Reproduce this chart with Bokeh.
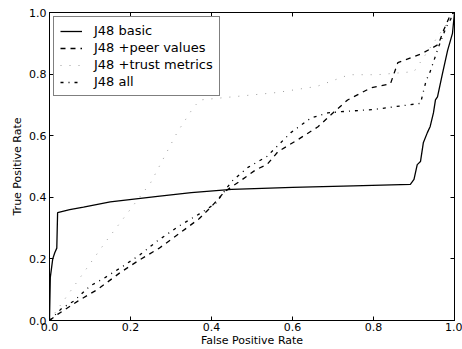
from bokeh.plotting import figure
from bokeh.models import Range1d, FixedTicker, PrintfTickFormatter, LinearAxis, Legend, LegendItem
from bokeh.embed import file_html
from bokeh.resources import INLINE

# ---- data ----
basic_fpr = [0.0, 0.002, 0.008, 0.013, 0.018, 0.02, 0.05, 0.084, 0.15, 0.267, 0.35, 0.45, 0.6, 0.75,
             0.891, 0.9, 0.908, 0.916, 0.923, 0.933, 0.94, 0.948, 0.953, 0.958, 0.97, 0.983, 0.995, 1.0]
basic_tpr = [0.0, 0.14, 0.2, 0.22, 0.235, 0.35, 0.36, 0.368, 0.385, 0.403, 0.415, 0.426, 0.432, 0.437,
             0.442, 0.458, 0.506, 0.516, 0.577, 0.61, 0.63, 0.674, 0.716, 0.726, 0.8, 0.877, 0.932, 1.0]

peer_fpr = [0.0, 0.02, 0.07, 0.12, 0.175, 0.22, 0.27, 0.32, 0.37, 0.40, 0.433, 0.47, 0.51, 0.537, 0.564,
            0.613, 0.663, 0.695, 0.736, 0.793, 0.842, 0.86, 0.89, 0.92, 0.96, 0.973, 0.99, 1.0]
peer_tpr = [0.0, 0.02, 0.063, 0.102, 0.156, 0.195, 0.234, 0.282, 0.331, 0.37, 0.419, 0.452, 0.49, 0.506, 0.548,
            0.587, 0.629, 0.668, 0.716, 0.755, 0.769, 0.837, 0.852, 0.867, 0.896, 0.942, 0.993, 1.0]

trust_fpr = [0.0, 0.14, 0.25, 0.315, 0.355, 0.372, 0.56, 0.66, 0.74, 0.81, 0.90, 0.95, 1.0]
trust_tpr = [0.0, 0.258, 0.448, 0.61, 0.691, 0.716, 0.74, 0.76, 0.798, 0.798, 0.808, 0.905, 1.0]

all_fpr = [0.0, 0.03, 0.06, 0.10, 0.133, 0.18, 0.224, 0.266, 0.32, 0.37, 0.41, 0.45, 0.49, 0.537, 0.596,
           0.645, 0.687, 0.72, 0.80, 0.916, 0.93, 0.94, 0.96, 0.98, 1.0]
all_tpr = [0.0, 0.039, 0.063, 0.112, 0.136, 0.175, 0.214, 0.258, 0.307, 0.346, 0.38, 0.452, 0.497, 0.533, 0.61,
           0.657, 0.674, 0.678, 0.685, 0.705, 0.779, 0.808, 0.886, 0.954, 1.0]

series_labels = ["J48 basic", "J48 +peer values", "J48 +trust metrics", "J48 all"]
ticks = [0.0, 0.2, 0.4, 0.6, 0.8, 1.0]
x_title = "False Positive Rate"
y_title = "True Positive Rate"

FONT = "DejaVu Sans"

p = figure(width=462, height=349, output_backend="svg", toolbar_location=None,
           x_range=Range1d(0, 1), y_range=Range1d(0, 1),
           min_border_left=49, min_border_right=8, min_border_top=12, min_border_bottom=24)
p.xgrid.visible = False
p.ygrid.visible = False
p.outline_line_color = "black"
p.outline_line_width = 1
p.background_fill_color = "white"
p.border_fill_color = "white"

for ax in (p.xaxis[0], p.yaxis[0]):
    ax.ticker = FixedTicker(ticks=ticks)
    ax.formatter = PrintfTickFormatter(format="%.1f")
    ax.major_tick_in = 4
    ax.major_tick_out = 0
    ax.minor_tick_line_color = None
    ax.major_label_text_font = FONT
    ax.major_label_text_font_size = "11px"
    ax.major_label_text_color = "black"
    ax.axis_label_text_font = FONT
    ax.axis_label_text_font_size = "11px"
    ax.axis_label_text_font_style = "normal"
    ax.axis_label_text_color = "black"
    ax.axis_line_color = "black"
    ax.major_tick_line_color = "black"
    ax.major_label_standoff = 2
    ax.axis_label_standoff = 0

p.xaxis.axis_label = x_title
p.yaxis.axis_label = y_title
p.yaxis.axis_label_standoff = 2
p.yaxis.major_label_standoff = 3

for loc in ("right", "above"):
    ax = LinearAxis(ticker=FixedTicker(ticks=ticks), major_tick_in=4, major_tick_out=0,
                    minor_tick_line_color=None,
                    major_label_overrides={t: "" for t in ticks},
                    major_label_standoff=0, axis_line_color="black",
                    major_tick_line_color="black")
    p.add_layout(ax, loc)

r1 = p.line(basic_fpr, basic_tpr, line_color="black", line_width=1.3)
r2 = p.line(peer_fpr, peer_tpr, line_color="black", line_width=1.3, line_dash="5 5")
r3 = p.line(trust_fpr, trust_tpr, line_color="#9a9a9a", line_width=1.0, line_dash="1 8")
r4 = p.line(all_fpr, all_tpr, line_color="black", line_width=1.3, line_dash="3 5 1 5")

legend = Legend(items=[LegendItem(label=lbl, renderers=[r]) for lbl, r in
                       zip(series_labels, [r1, r2, r3, r4])],
                location="top_left")
legend.label_text_font = FONT
legend.label_text_font_size = "13px"
legend.label_text_color = "black"
legend.glyph_width = 22
legend.glyph_height = 14
legend.label_standoff = 12
legend.spacing = 2
legend.padding = 6
legend.margin = 4
legend.border_line_color = "black"
legend.border_line_width = 1
legend.background_fill_color = "white"
legend.background_fill_alpha = 1.0
p.add_layout(legend, "center")

open("out.html", "w").write(file_html(p, INLINE))
